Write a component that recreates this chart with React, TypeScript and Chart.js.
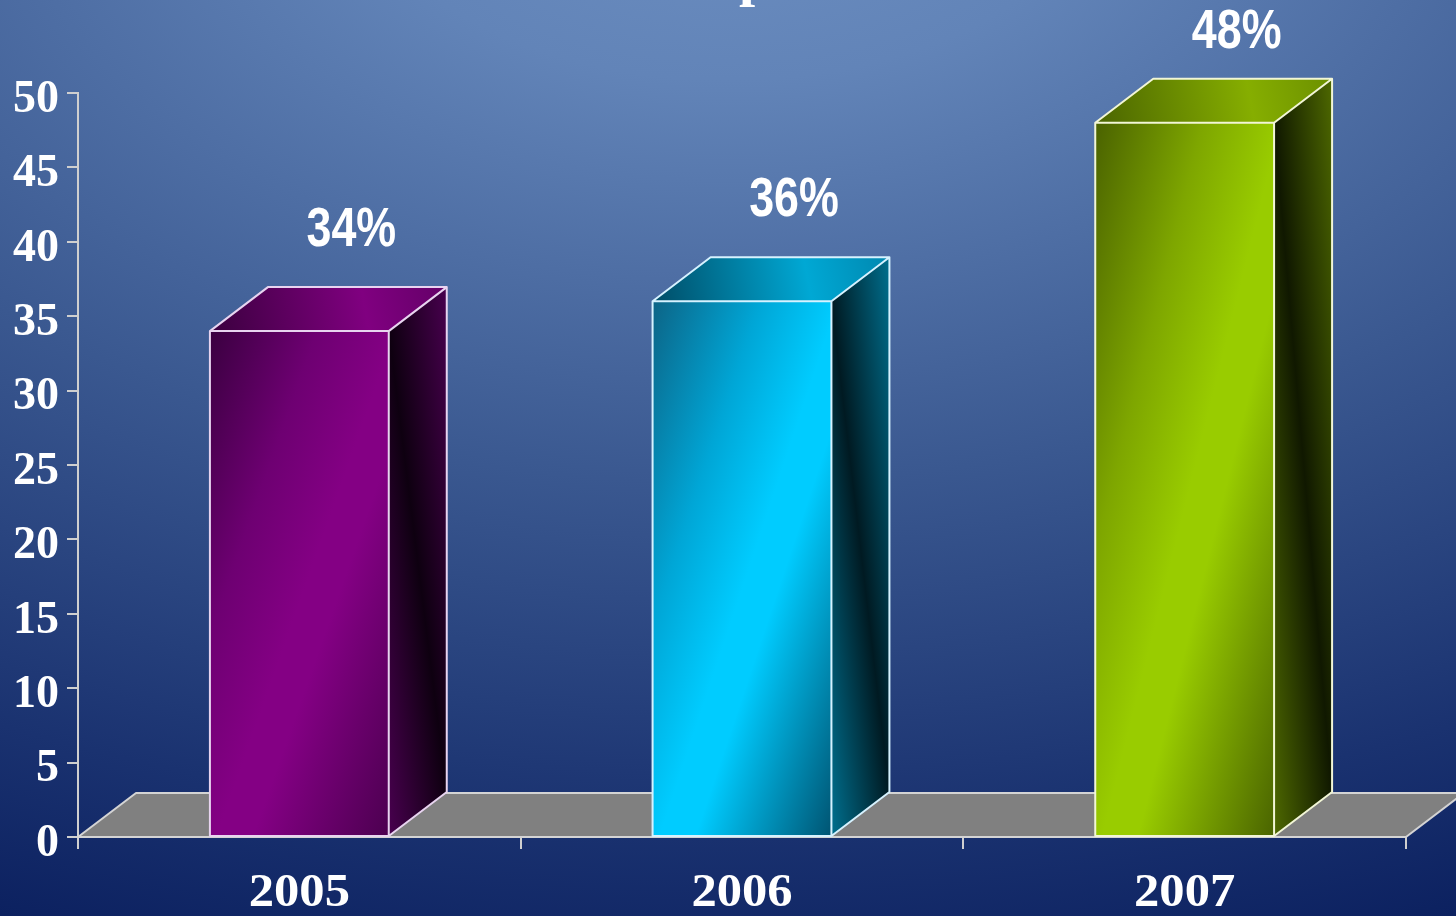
import React, { useEffect, useRef } from 'react';
import { Chart, registerables } from 'chart.js';

Chart.register(...registerables);

// ---- data ----
const categories: string[] = ['2005', '2006', '2007'];
const values: number[] = [34, 36, 48];
const valueLabels: string[] = ['34%', '36%', '48%'];
const yMin = 0;
const yMax = 50;
const yStep = 5;
const titleFragment = 'p';

// ---- style ----
const W = 1456;
const H = 916;
const DEPTH_X = 58;
const DEPTH_Y = 44;

type Pal = {
  front: [string, string, string, string];
  side: [string, string];
  top: [string, string, string];
  edge: string;
};

const palette: Pal[] = [
  {
    front: ['#3a0040', '#6e0072', '#840084', '#4c0050'],
    side: ['#46004c', '#0e0010'],
    top: ['#3a003e', '#800080', '#640068'],
    edge: '#e8d4f0',
  },
  {
    front: ['#0c6486', '#00a6d6', '#00ccff', '#005472'],
    side: ['#006c8a', '#001a22'],
    top: ['#004c66', '#00a8d4', '#0088b0'],
    edge: '#d6f2ff',
  },
  {
    front: ['#4a6200', '#7ea600', '#99cc00', '#4a6400'],
    side: ['#4c6600', '#101800'],
    top: ['#4a6400', '#86ae00', '#6c9000'],
    edge: '#f2f6d6',
  },
];

const AXIS_COLOR = '#cfcfcf';
const SERIF = '"Liberation Serif", "Times New Roman", serif';
const SANS = '"Liberation Sans", Arial, sans-serif';

const backgroundPlugin = {
  id: 'bgGradient',
  beforeDraw(chart: any) {
    const ctx: CanvasRenderingContext2D = chart.ctx;
    ctx.save();
    ctx.translate(728, -150);
    ctx.scale(1 / 0.6, 1);
    const g = ctx.createRadialGradient(0, 0, 0, 0, 0, 1150);
    g.addColorStop(0, '#6e90c2');
    g.addColorStop(0.2, '#6284b8');
    g.addColorStop(0.55, '#3a5890');
    g.addColorStop(0.85, '#1a3270');
    g.addColorStop(1, '#0c2160');
    ctx.fillStyle = g;
    ctx.fillRect(-450, 140, 900, 940);
    ctx.restore();

    // title fragment (cut off at the top of the picture)
    ctx.save();
    ctx.fillStyle = '#ffffff';
    ctx.font = `bold 58px ${SERIF}`;
    ctx.textAlign = 'left';
    ctx.textBaseline = 'alphabetic';
    ctx.fillText(titleFragment, 739, -5);
    ctx.restore();
  },
};

const floorPlugin = {
  id: 'floor3d',
  beforeDatasetsDraw(chart: any) {
    const ctx: CanvasRenderingContext2D = chart.ctx;
    const { left, right } = chart.chartArea;
    const base = chart.scales.y.getPixelForValue(0);
    ctx.save();
    ctx.beginPath();
    ctx.moveTo(left, base);
    ctx.lineTo(right, base);
    ctx.lineTo(right + DEPTH_X, base - DEPTH_Y);
    ctx.lineTo(left + DEPTH_X, base - DEPTH_Y);
    ctx.closePath();
    ctx.fillStyle = '#808080';
    ctx.fill();
    ctx.strokeStyle = '#d4d4d4';
    ctx.lineWidth = 2;
    ctx.lineJoin = 'round';
    ctx.stroke();
    ctx.restore();
  },
};

const bars3dPlugin = {
  id: 'bars3d',
  afterDatasetsDraw(chart: any) {
    const ctx: CanvasRenderingContext2D = chart.ctx;
    const meta = chart.getDatasetMeta(0);
    const xScale = chart.scales.x;
    meta.data.forEach((bar: any, i: number) => {
      const p = bar.getProps(['x', 'y', 'base', 'width'], true);
      const pal = palette[i % palette.length];
      const x0 = p.x - p.width / 2;
      const x1 = p.x + p.width / 2;
      const y0 = Math.min(p.y, p.base);
      const y1 = Math.max(p.y, p.base);
      const w = x1 - x0;
      const h = y1 - y0;
      const dx = DEPTH_X;
      const dy = DEPTH_Y;

      ctx.save();
      // front face: soft diagonal sheen
      {
        const L = Math.sqrt(w * w + h * h);
        const ux = h / L;
        const uy = w / L;
        const e = (w * h) / L;
        const cx = (x0 + x1) / 2;
        const cy = (y0 + y1) / 2;
        const g = ctx.createLinearGradient(cx - e * ux, cy - e * uy, cx + e * ux, cy + e * uy);
        g.addColorStop(0, pal.front[0]);
        g.addColorStop(0.3, pal.front[1]);
        g.addColorStop(0.52, pal.front[2]);
        g.addColorStop(0.62, pal.front[2]);
        g.addColorStop(1, pal.front[3]);
        ctx.fillStyle = g;
        ctx.fillRect(x0, y0, w, h);
      }
      // side face
      {
        const vx = dx;
        const vy = h - dy;
        const L = Math.sqrt(vx * vx + vy * vy) || 1;
        const ux = vy / L;
        const uy = -vx / L;
        const e = Math.abs((dx * (2 * h - dy)) / (2 * L)) || 1;
        const cx = x1 + dx / 2;
        const cy = (y0 + y1) / 2 - dy / 2;
        const g = ctx.createLinearGradient(cx - e * ux, cy - e * uy, cx + e * ux, cy + e * uy);
        g.addColorStop(0, pal.side[0]);
        g.addColorStop(0.5, pal.side[1]);
        g.addColorStop(1, pal.side[0]);
        ctx.beginPath();
        ctx.moveTo(x1, y0);
        ctx.lineTo(x1 + dx, y0 - dy);
        ctx.lineTo(x1 + dx, y1 - dy);
        ctx.lineTo(x1, y1);
        ctx.closePath();
        ctx.fillStyle = g;
        ctx.fill();
      }
      // top face
      {
        const g = ctx.createLinearGradient(x0, y0, x1 + dx, y0 - dy);
        g.addColorStop(0, pal.top[0]);
        g.addColorStop(0.65, pal.top[1]);
        g.addColorStop(1, pal.top[2]);
        ctx.beginPath();
        ctx.moveTo(x0, y0);
        ctx.lineTo(x1, y0);
        ctx.lineTo(x1 + dx, y0 - dy);
        ctx.lineTo(x0 + dx, y0 - dy);
        ctx.closePath();
        ctx.fillStyle = g;
        ctx.fill();
      }
      // edges
      ctx.strokeStyle = pal.edge;
      ctx.lineWidth = 2;
      ctx.lineJoin = 'round';
      ctx.beginPath();
      ctx.rect(x0, y0, w, h);
      ctx.moveTo(x0, y0);
      ctx.lineTo(x0 + dx, y0 - dy);
      ctx.lineTo(x1 + dx, y0 - dy);
      ctx.lineTo(x1, y0);
      ctx.moveTo(x1 + dx, y0 - dy);
      ctx.lineTo(x1 + dx, y1 - dy);
      ctx.lineTo(x1, y1);
      ctx.stroke();
      ctx.restore();

      // value label
      const label = valueLabels[i];
      if (label) {
        ctx.save();
        ctx.fillStyle = '#ffffff';
        ctx.font = `bold 56px ${SANS}`;
        ctx.textAlign = 'center';
        ctx.textBaseline = 'middle';
        const lx = p.x + 52;
        const ly = Math.max(y0 - 101, 33);
        const sx = 0.8;
        ctx.scale(sx, 1);
        ctx.fillText(label, lx / sx, ly);
        ctx.restore();
      }
    });

    // category labels
    const labels: string[] = chart.data.labels;
    ctx.save();
    ctx.fillStyle = '#ffffff';
    ctx.font = `bold 46px ${SERIF}`;
    ctx.textAlign = 'center';
    ctx.textBaseline = 'alphabetic';
    const sx = 1.1;
    ctx.scale(sx, 1);
    labels.forEach((lab, i) => {
      const px = xScale.getPixelForValue(i);
      ctx.fillText(lab, px / sx, 906);
    });
    ctx.restore();
  },
};

export default function App() {
  const canvasRef = useRef<HTMLCanvasElement | null>(null);

  useEffect(() => {
    document.body.style.margin = '0';
    const canvas = canvasRef.current;
    if (!canvas) return;
    const chart = new Chart(canvas, {
      type: 'bar',
      data: {
        labels: categories,
        datasets: [
          {
            data: values,
            backgroundColor: 'rgba(0,0,0,0)',
            borderWidth: 0,
            categoryPercentage: 1,
            barPercentage: 0.404,
          } as any,
        ],
      },
      options: {
        responsive: false,
        animation: false,
        devicePixelRatio: 1,
        layout: { padding: { top: 93, right: 50, left: 0, bottom: 0 } },
        plugins: {
          legend: { display: false },
          tooltip: { enabled: false },
          title: { display: false },
        },
        scales: {
          x: {
            type: 'category',
            offset: true,
            grid: {
              display: true,
              offset: true,
              drawOnChartArea: false,
              drawTicks: true,
              tickLength: 12,
              color: AXIS_COLOR,
              lineWidth: 2,
            },
            border: { display: true, color: AXIS_COLOR, width: 2 },
            ticks: { display: false },
            afterFit: (s: any) => {
              s.height = 79;
            },
          },
          y: {
            min: yMin,
            max: yMax,
            ticks: {
              stepSize: yStep,
              color: '#ffffff',
              font: { family: SERIF, size: 46, weight: 'bold' },
              padding: 8,
              labelOffset: 7,
            },
            grid: {
              drawOnChartArea: false,
              drawTicks: true,
              tickLength: 11,
              color: AXIS_COLOR,
              lineWidth: 2,
            },
            border: { display: true, color: AXIS_COLOR, width: 2 },
            afterFit: (s: any) => {
              s.width = 78;
            },
          },
        },
      } as any,
      plugins: [backgroundPlugin, floorPlugin, bars3dPlugin],
    });
    return () => chart.destroy();
  }, []);

  return (
    <div style={{ position: 'fixed', left: 0, top: 0, width: W, height: H, overflow: 'hidden' }}>
      <canvas ref={canvasRef} width={W} height={H} style={{ display: 'block', width: W, height: H }} />
    </div>
  );
}
